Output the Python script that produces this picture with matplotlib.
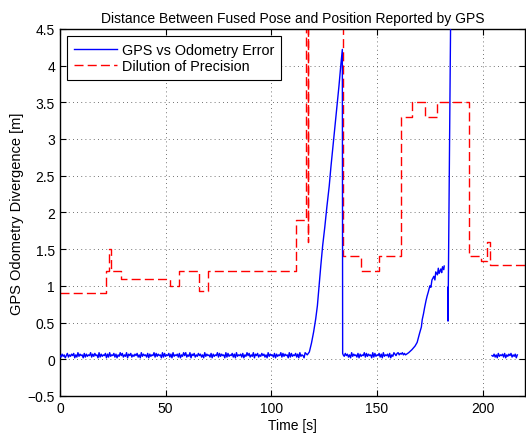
import numpy as np
import matplotlib
matplotlib.use("Agg")
import matplotlib.pyplot as plt
from matplotlib.ticker import FuncFormatter

plt.rcParams['font.family'] = ['Liberation Sans', 'DejaVu Sans']

# ---------------- data ----------------
# Noise segments: literal hundredths of a metre, one value every 0.5 s
noise_a = ("5374625836475826394756283746593748562937465827394658372649583649275836"
           "4758362947563827465938475629384658372946573826495936492758364857362947"
           "5638274659384756293846583729465738264958364927583648573629475638274659"
           "38475629384658372946529")
noise_a_start = 0.0
noise_b = "64857362947563827465938475629384658372946573826497589687968"
noise_b_start = 134.0
noise_c = "5473628465738264758364726"
noise_c_start = 204.4

# Ramp sections of the GPS vs odometry error (time, value)
ramp1_t = [117.0, 118.0, 119.0, 120.0, 121.0, 121.8, 122.6, 123.4, 124.3, 125.3, 126.3,
           127.4, 128.2, 128.9, 129.7, 130.5, 131.3, 132.0, 132.8, 133.6, 133.75]
ramp1_v = [0.06, 0.10, 0.22, 0.37, 0.55, 0.73, 1.00, 1.27, 1.55, 1.80, 2.08,
           2.36, 2.62, 2.82, 3.05, 3.27, 3.50, 3.72, 3.98, 4.22, 0.08]
ramp2_t = [163.5, 165.0, 166.5, 168.0, 169.0, 170.2, 171.0, 171.4, 172.0, 172.5, 173.2,
           173.7, 174.3, 175.0, 175.5, 176.0, 176.9, 177.4, 177.8, 178.6, 179.0, 179.4,
           180.2, 180.6, 181.0, 181.6, 181.8]
ramp2_v = [0.06, 0.09, 0.13, 0.18, 0.23, 0.36, 0.44, 0.54, 0.62, 0.70, 0.80,
           0.86, 0.92, 1.00, 0.98, 1.08, 1.13, 1.08, 1.19, 1.15, 1.24, 1.17,
           1.23, 1.18, 1.26, 1.22, 1.27]
spike_t = [183.5, 183.6, 185.1]
spike_v = [0.98, 0.52, 5.50]

# Dilution of precision (step function: value holds from time until next time)
dop_t = [0, 22.0, 23.3, 24.3, 29.1, 51.9, 56.1, 66.0, 70.0, 111.9, 116.4, 117.2, 117.5,
         133.9, 142.3, 151.0, 161.2, 166.7, 172.9, 178.5, 193.4, 199.4, 202.0, 203.6, 220]
dop_v = [0.9, 1.2, 1.5, 1.2, 1.1, 1.0, 1.2, 0.93, 1.2, 1.9, 6.0, 1.6, 6.0,
         1.4, 1.2, 1.4, 3.3, 3.5, 3.3, 3.5, 1.4, 1.34, 1.6, 1.29, 1.29]

x_ticks = [0, 50, 100, 150, 200]
y_ticks = [-0.5, 0, 0.5, 1, 1.5, 2, 2.5, 3, 3.5, 4, 4.5]

title = "Distance Between Fused Pose and Position Reported by GPS"
xlabel = "Time [s]"
ylabel = "GPS Odometry Divergence [m]"
legend_labels = ["GPS vs Odometry Error", "Dilution of Precision"]


def seg(s, start):
    v = np.array([int(c) for c in s]) / 100.0
    t = start + 0.5 * np.arange(len(v))
    return t, v

ta, va = seg(noise_a, noise_a_start)
tb, vb = seg(noise_b, noise_b_start)
tc, vc = seg(noise_c, noise_c_start)

gps_t = np.concatenate([ta, ramp1_t, tb, ramp2_t, [np.nan], spike_t, [np.nan], tc])
gps_v = np.concatenate([va, ramp1_v, vb, ramp2_v, [np.nan], spike_v, [np.nan], vc])

# ---------------- figure ----------------
fig = plt.figure(figsize=(5.26, 4.39), dpi=100)
ax = fig.add_axes([0.114, 0.0957, 0.884, 0.8363])

ax.plot(gps_t, gps_v, color='#0000ff', lw=1.0, label=legend_labels[0], zorder=3)
ax.plot(dop_t, dop_v, color='#ff0000', lw=1.0, dashes=(6.5, 3), drawstyle='steps-post',
        label=legend_labels[1], zorder=2)

ax.set_xlim(0, 220)
ax.set_ylim(-0.5, 4.5)
ax.set_xticks(x_ticks)
ax.set_yticks(y_ticks)
fmt = FuncFormatter(lambda v, p: ('%g' % v).replace('-', '\u2212'))
ax.yaxis.set_major_formatter(fmt)
ax.xaxis.set_major_formatter(fmt)
ax.tick_params(direction='in', top=True, right=True, length=4, width=0.8,
               labelsize=10, colors='black')
ax.grid(True, color='#444444', linestyle=(0, (1, 4)), linewidth=0.6)
for sp in ax.spines.values():
    sp.set_linewidth(1.0)

ax.set_title(title, fontsize=10, pad=5)
ax.set_xlabel(xlabel, fontsize=10, labelpad=2)
ax.set_ylabel(ylabel, fontsize=10.5, labelpad=3)

leg = ax.legend(loc='upper left', fontsize=10.4, frameon=True, fancybox=False,
                edgecolor='black', framealpha=1, borderpad=0.45, handlelength=3.0,
                handletextpad=0.35, labelspacing=0.2, borderaxespad=0.5)
leg.get_frame().set_linewidth(0.8)

fig.savefig('out.png', dpi=100)
